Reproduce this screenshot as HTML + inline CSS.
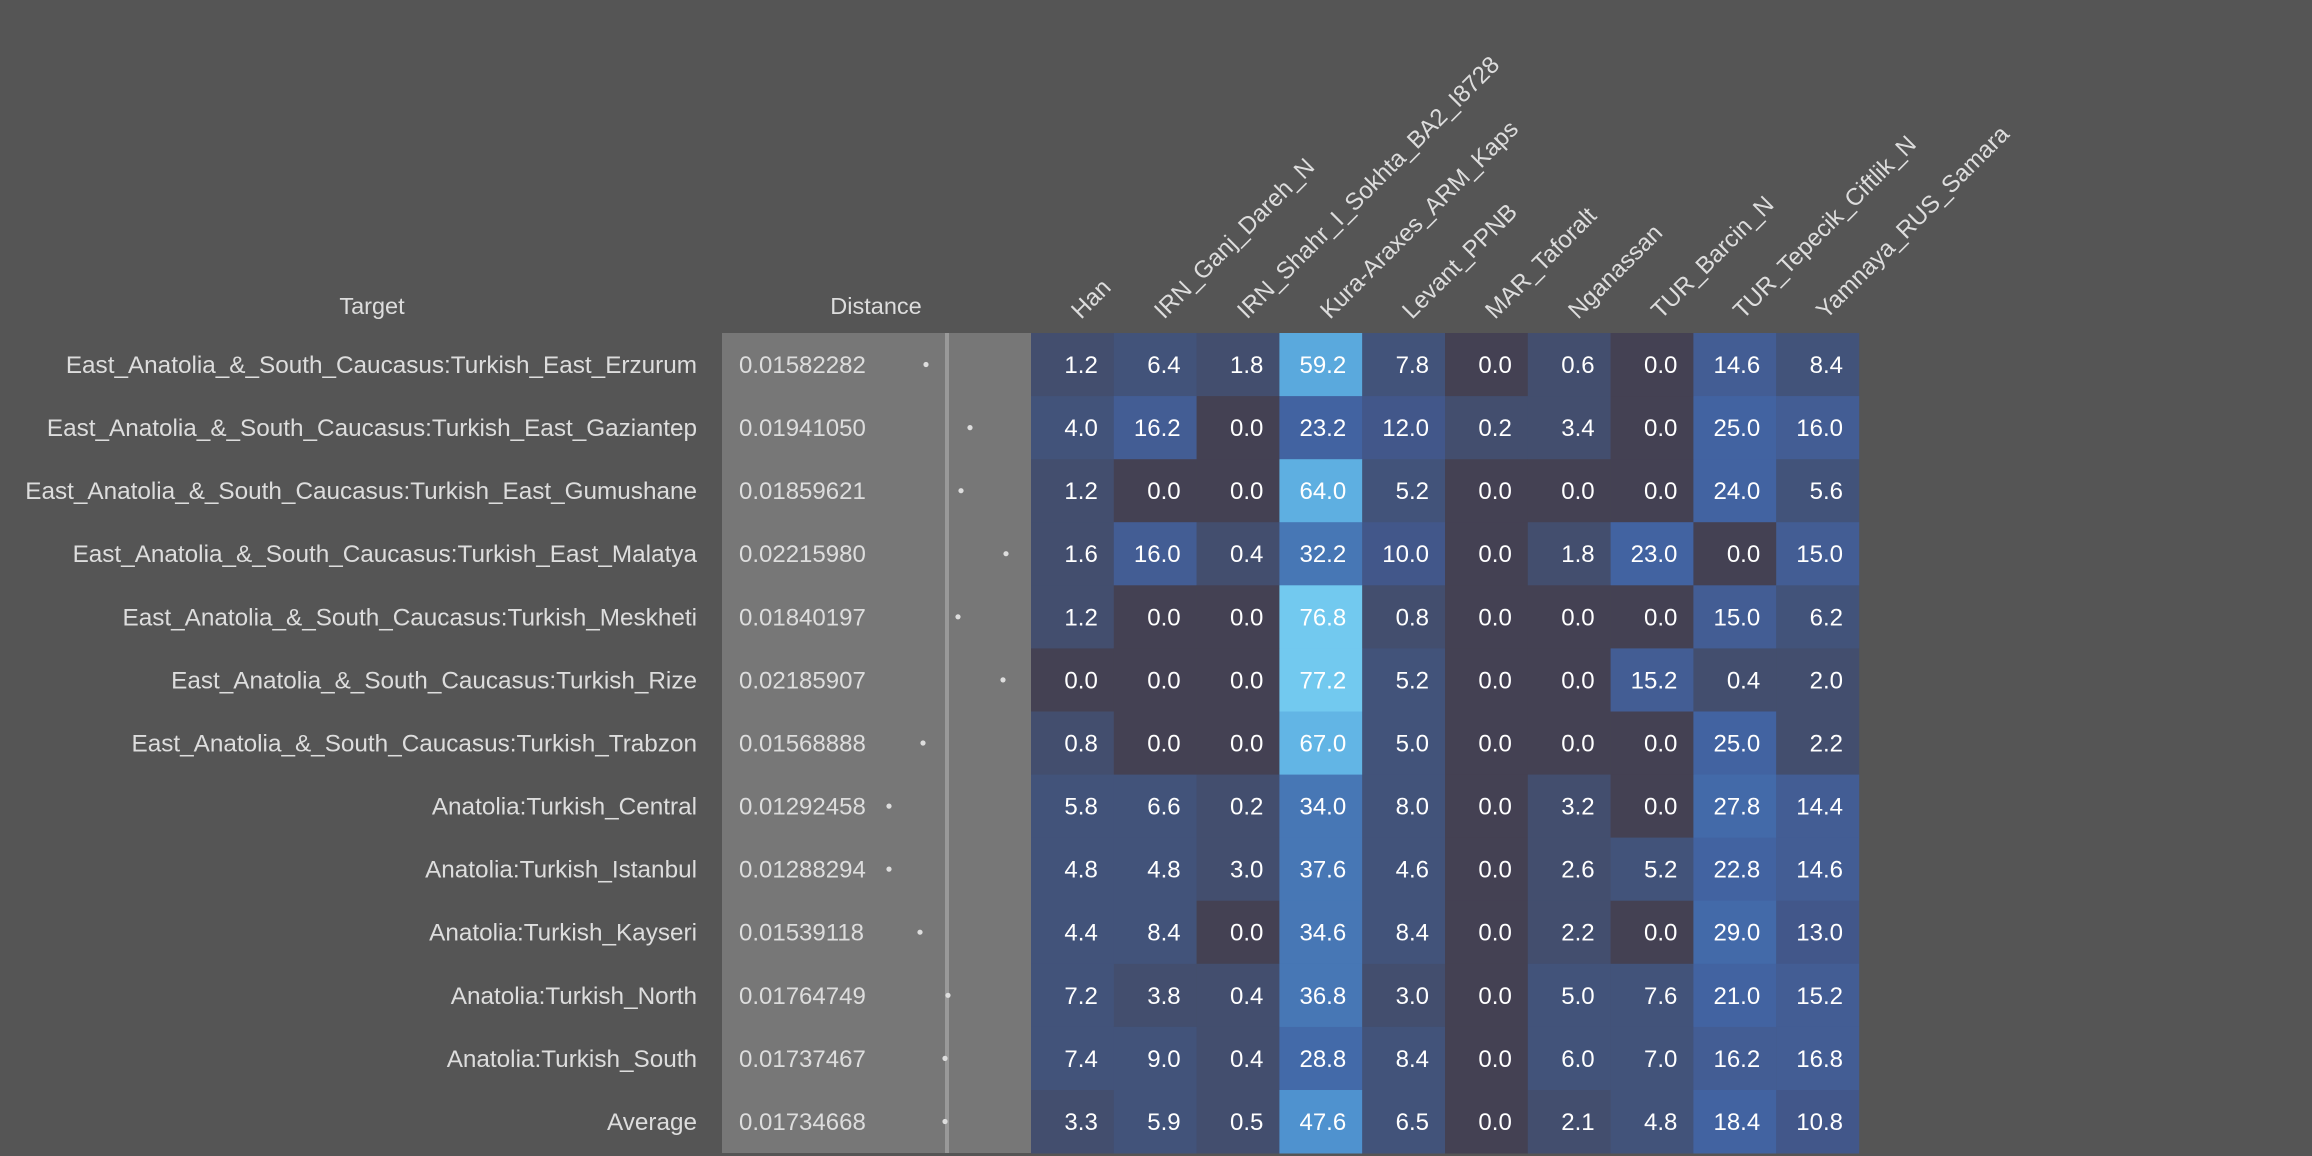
<!DOCTYPE html>
<html><head><meta charset="utf-8"><style>
html,body{margin:0;padding:0;background:#555555;}
svg{display:block;font-family:"Liberation Sans",Arial,sans-serif;}
.l{fill:#dddddd;font-size:24.3px;text-anchor:end}
.d{fill:#dddddd;font-size:24px}
.v{fill:#ffffff;font-size:24px;text-anchor:end}
.h{fill:#dddddd;font-size:24px}
.z{fill:#444153}.a{fill:#434e6e}.b{fill:#42537a}.c{fill:#42578a}.e{fill:#435d94}.f{fill:#4263a1}.g{fill:#436aa9}.k{fill:#4777b5}.m{fill:#4f92cf}.n{fill:#5aa9dd}.o{fill:#5eafe1}.p{fill:#62b5e5}.q{fill:#72c9ef}
</style></head><body>
<svg width="2312" height="1156" viewBox="0 0 2312 1156" xmlns="http://www.w3.org/2000/svg">
<rect width="2312" height="1156" fill="#555555"/>
<text x="372" y="314" fill="#dddddd" font-size="23.5" text-anchor="middle">Target</text>
<text x="876" y="314" fill="#dddddd" font-size="23.5" text-anchor="middle">Distance</text>
<rect x="722" y="333" width="309" height="820" fill="#777777"/>
<rect x="945" y="333" width="4" height="820" fill="#999999"/>

<text class="h" x="1081" y="320" transform="rotate(-45 1081 320)">Han</text>
<text class="h" x="1164" y="320" transform="rotate(-45 1164 320)">IRN_Ganj_Dareh_N</text>
<text class="h" x="1247" y="320" transform="rotate(-45 1247 320)">IRN_Shahr_I_Sokhta_BA2_I8728</text>
<text class="h" x="1330" y="320" transform="rotate(-45 1330 320)">Kura-Araxes_ARM_Kaps</text>
<text class="h" x="1412" y="320" transform="rotate(-45 1412 320)">Levant_PPNB</text>
<text class="h" x="1495" y="320" transform="rotate(-45 1495 320)">MAR_Taforalt</text>
<text class="h" x="1578" y="320" transform="rotate(-45 1578 320)">Nganassan</text>
<text class="h" x="1661" y="320" transform="rotate(-45 1661 320)">TUR_Barcin_N</text>
<text class="h" x="1743" y="320" transform="rotate(-45 1743 320)">TUR_Tepecik_Ciftlik_N</text>
<text class="h" x="1826" y="320" transform="rotate(-45 1826 320)">Yamnaya_RUS_Samara</text>

<g transform="translate(0,333)">
<text class="l" x="697" y="40">East_Anatolia_&amp;_South_Caucasus:Turkish_East_Erzurum</text><text class="d" x="739" y="40">0.01582282</text><circle cx="926" cy="31.5" r="2.6" fill="#ddd"/>
<rect class="a" x="1031" y="0" width="83" height="63.5"/><rect class="b" x="1113.8" y="0" width="83" height="63.5"/><rect class="a" x="1196.6" y="0" width="83" height="63.5"/><rect class="n" x="1279.4" y="0" width="83" height="63.5"/><rect class="b" x="1362.2" y="0" width="83" height="63.5"/><rect class="z" x="1445" y="0" width="83" height="63.5"/><rect class="a" x="1527.8" y="0" width="83" height="63.5"/><rect class="z" x="1610.6" y="0" width="83" height="63.5"/><rect class="e" x="1693.4" y="0" width="83" height="63.5"/><rect class="b" x="1776.2" y="0" width="83" height="63.5"/>
<text class="v" x="1097.8" y="40">1.2</text><text class="v" x="1180.6" y="40">6.4</text><text class="v" x="1263.4" y="40">1.8</text><text class="v" x="1346.2" y="40">59.2</text><text class="v" x="1429" y="40">7.8</text><text class="v" x="1511.8" y="40">0.0</text><text class="v" x="1594.6" y="40">0.6</text><text class="v" x="1677.4" y="40">0.0</text><text class="v" x="1760.2" y="40">14.6</text><text class="v" x="1843" y="40">8.4</text>
</g>
<g transform="translate(0,396.1)">
<text class="l" x="697" y="40">East_Anatolia_&amp;_South_Caucasus:Turkish_East_Gaziantep</text><text class="d" x="739" y="40">0.01941050</text><circle cx="970" cy="31.5" r="2.6" fill="#ddd"/>
<rect class="b" x="1031" y="0" width="83" height="63.5"/><rect class="e" x="1113.8" y="0" width="83" height="63.5"/><rect class="z" x="1196.6" y="0" width="83" height="63.5"/><rect class="f" x="1279.4" y="0" width="83" height="63.5"/><rect class="c" x="1362.2" y="0" width="83" height="63.5"/><rect class="a" x="1445" y="0" width="83" height="63.5"/><rect class="a" x="1527.8" y="0" width="83" height="63.5"/><rect class="z" x="1610.6" y="0" width="83" height="63.5"/><rect class="f" x="1693.4" y="0" width="83" height="63.5"/><rect class="e" x="1776.2" y="0" width="83" height="63.5"/>
<text class="v" x="1097.8" y="40">4.0</text><text class="v" x="1180.6" y="40">16.2</text><text class="v" x="1263.4" y="40">0.0</text><text class="v" x="1346.2" y="40">23.2</text><text class="v" x="1429" y="40">12.0</text><text class="v" x="1511.8" y="40">0.2</text><text class="v" x="1594.6" y="40">3.4</text><text class="v" x="1677.4" y="40">0.0</text><text class="v" x="1760.2" y="40">25.0</text><text class="v" x="1843" y="40">16.0</text>
</g>
<g transform="translate(0,459.2)">
<text class="l" x="697" y="40">East_Anatolia_&amp;_South_Caucasus:Turkish_East_Gumushane</text><text class="d" x="739" y="40">0.01859621</text><circle cx="961" cy="31.5" r="2.6" fill="#ddd"/>
<rect class="a" x="1031" y="0" width="83" height="63.5"/><rect class="z" x="1113.8" y="0" width="83" height="63.5"/><rect class="z" x="1196.6" y="0" width="83" height="63.5"/><rect class="o" x="1279.4" y="0" width="83" height="63.5"/><rect class="b" x="1362.2" y="0" width="83" height="63.5"/><rect class="z" x="1445" y="0" width="83" height="63.5"/><rect class="z" x="1527.8" y="0" width="83" height="63.5"/><rect class="z" x="1610.6" y="0" width="83" height="63.5"/><rect class="f" x="1693.4" y="0" width="83" height="63.5"/><rect class="b" x="1776.2" y="0" width="83" height="63.5"/>
<text class="v" x="1097.8" y="40">1.2</text><text class="v" x="1180.6" y="40">0.0</text><text class="v" x="1263.4" y="40">0.0</text><text class="v" x="1346.2" y="40">64.0</text><text class="v" x="1429" y="40">5.2</text><text class="v" x="1511.8" y="40">0.0</text><text class="v" x="1594.6" y="40">0.0</text><text class="v" x="1677.4" y="40">0.0</text><text class="v" x="1760.2" y="40">24.0</text><text class="v" x="1843" y="40">5.6</text>
</g>
<g transform="translate(0,522.2)">
<text class="l" x="697" y="40">East_Anatolia_&amp;_South_Caucasus:Turkish_East_Malatya</text><text class="d" x="739" y="40">0.02215980</text><circle cx="1006" cy="31.5" r="2.6" fill="#ddd"/>
<rect class="a" x="1031" y="0" width="83" height="63.5"/><rect class="e" x="1113.8" y="0" width="83" height="63.5"/><rect class="a" x="1196.6" y="0" width="83" height="63.5"/><rect class="k" x="1279.4" y="0" width="83" height="63.5"/><rect class="c" x="1362.2" y="0" width="83" height="63.5"/><rect class="z" x="1445" y="0" width="83" height="63.5"/><rect class="a" x="1527.8" y="0" width="83" height="63.5"/><rect class="f" x="1610.6" y="0" width="83" height="63.5"/><rect class="z" x="1693.4" y="0" width="83" height="63.5"/><rect class="e" x="1776.2" y="0" width="83" height="63.5"/>
<text class="v" x="1097.8" y="40">1.6</text><text class="v" x="1180.6" y="40">16.0</text><text class="v" x="1263.4" y="40">0.4</text><text class="v" x="1346.2" y="40">32.2</text><text class="v" x="1429" y="40">10.0</text><text class="v" x="1511.8" y="40">0.0</text><text class="v" x="1594.6" y="40">1.8</text><text class="v" x="1677.4" y="40">23.0</text><text class="v" x="1760.2" y="40">0.0</text><text class="v" x="1843" y="40">15.0</text>
</g>
<g transform="translate(0,585.3)">
<text class="l" x="697" y="40">East_Anatolia_&amp;_South_Caucasus:Turkish_Meskheti</text><text class="d" x="739" y="40">0.01840197</text><circle cx="958" cy="31.5" r="2.6" fill="#ddd"/>
<rect class="a" x="1031" y="0" width="83" height="63.5"/><rect class="z" x="1113.8" y="0" width="83" height="63.5"/><rect class="z" x="1196.6" y="0" width="83" height="63.5"/><rect class="q" x="1279.4" y="0" width="83" height="63.5"/><rect class="a" x="1362.2" y="0" width="83" height="63.5"/><rect class="z" x="1445" y="0" width="83" height="63.5"/><rect class="z" x="1527.8" y="0" width="83" height="63.5"/><rect class="z" x="1610.6" y="0" width="83" height="63.5"/><rect class="e" x="1693.4" y="0" width="83" height="63.5"/><rect class="b" x="1776.2" y="0" width="83" height="63.5"/>
<text class="v" x="1097.8" y="40">1.2</text><text class="v" x="1180.6" y="40">0.0</text><text class="v" x="1263.4" y="40">0.0</text><text class="v" x="1346.2" y="40">76.8</text><text class="v" x="1429" y="40">0.8</text><text class="v" x="1511.8" y="40">0.0</text><text class="v" x="1594.6" y="40">0.0</text><text class="v" x="1677.4" y="40">0.0</text><text class="v" x="1760.2" y="40">15.0</text><text class="v" x="1843" y="40">6.2</text>
</g>
<g transform="translate(0,648.4)">
<text class="l" x="697" y="40">East_Anatolia_&amp;_South_Caucasus:Turkish_Rize</text><text class="d" x="739" y="40">0.02185907</text><circle cx="1003" cy="31.5" r="2.6" fill="#ddd"/>
<rect class="z" x="1031" y="0" width="83" height="63.5"/><rect class="z" x="1113.8" y="0" width="83" height="63.5"/><rect class="z" x="1196.6" y="0" width="83" height="63.5"/><rect class="q" x="1279.4" y="0" width="83" height="63.5"/><rect class="b" x="1362.2" y="0" width="83" height="63.5"/><rect class="z" x="1445" y="0" width="83" height="63.5"/><rect class="z" x="1527.8" y="0" width="83" height="63.5"/><rect class="e" x="1610.6" y="0" width="83" height="63.5"/><rect class="a" x="1693.4" y="0" width="83" height="63.5"/><rect class="a" x="1776.2" y="0" width="83" height="63.5"/>
<text class="v" x="1097.8" y="40">0.0</text><text class="v" x="1180.6" y="40">0.0</text><text class="v" x="1263.4" y="40">0.0</text><text class="v" x="1346.2" y="40">77.2</text><text class="v" x="1429" y="40">5.2</text><text class="v" x="1511.8" y="40">0.0</text><text class="v" x="1594.6" y="40">0.0</text><text class="v" x="1677.4" y="40">15.2</text><text class="v" x="1760.2" y="40">0.4</text><text class="v" x="1843" y="40">2.0</text>
</g>
<g transform="translate(0,711.5)">
<text class="l" x="697" y="40">East_Anatolia_&amp;_South_Caucasus:Turkish_Trabzon</text><text class="d" x="739" y="40">0.01568888</text><circle cx="923" cy="31.5" r="2.6" fill="#ddd"/>
<rect class="a" x="1031" y="0" width="83" height="63.5"/><rect class="z" x="1113.8" y="0" width="83" height="63.5"/><rect class="z" x="1196.6" y="0" width="83" height="63.5"/><rect class="p" x="1279.4" y="0" width="83" height="63.5"/><rect class="b" x="1362.2" y="0" width="83" height="63.5"/><rect class="z" x="1445" y="0" width="83" height="63.5"/><rect class="z" x="1527.8" y="0" width="83" height="63.5"/><rect class="z" x="1610.6" y="0" width="83" height="63.5"/><rect class="f" x="1693.4" y="0" width="83" height="63.5"/><rect class="a" x="1776.2" y="0" width="83" height="63.5"/>
<text class="v" x="1097.8" y="40">0.8</text><text class="v" x="1180.6" y="40">0.0</text><text class="v" x="1263.4" y="40">0.0</text><text class="v" x="1346.2" y="40">67.0</text><text class="v" x="1429" y="40">5.0</text><text class="v" x="1511.8" y="40">0.0</text><text class="v" x="1594.6" y="40">0.0</text><text class="v" x="1677.4" y="40">0.0</text><text class="v" x="1760.2" y="40">25.0</text><text class="v" x="1843" y="40">2.2</text>
</g>
<g transform="translate(0,774.6)">
<text class="l" x="697" y="40">Anatolia:Turkish_Central</text><text class="d" x="739" y="40">0.01292458</text><circle cx="889" cy="31.5" r="2.6" fill="#ddd"/>
<rect class="b" x="1031" y="0" width="83" height="63.5"/><rect class="b" x="1113.8" y="0" width="83" height="63.5"/><rect class="a" x="1196.6" y="0" width="83" height="63.5"/><rect class="k" x="1279.4" y="0" width="83" height="63.5"/><rect class="b" x="1362.2" y="0" width="83" height="63.5"/><rect class="z" x="1445" y="0" width="83" height="63.5"/><rect class="a" x="1527.8" y="0" width="83" height="63.5"/><rect class="z" x="1610.6" y="0" width="83" height="63.5"/><rect class="g" x="1693.4" y="0" width="83" height="63.5"/><rect class="e" x="1776.2" y="0" width="83" height="63.5"/>
<text class="v" x="1097.8" y="40">5.8</text><text class="v" x="1180.6" y="40">6.6</text><text class="v" x="1263.4" y="40">0.2</text><text class="v" x="1346.2" y="40">34.0</text><text class="v" x="1429" y="40">8.0</text><text class="v" x="1511.8" y="40">0.0</text><text class="v" x="1594.6" y="40">3.2</text><text class="v" x="1677.4" y="40">0.0</text><text class="v" x="1760.2" y="40">27.8</text><text class="v" x="1843" y="40">14.4</text>
</g>
<g transform="translate(0,837.6)">
<text class="l" x="697" y="40">Anatolia:Turkish_Istanbul</text><text class="d" x="739" y="40">0.01288294</text><circle cx="889" cy="31.5" r="2.6" fill="#ddd"/>
<rect class="b" x="1031" y="0" width="83" height="63.5"/><rect class="b" x="1113.8" y="0" width="83" height="63.5"/><rect class="a" x="1196.6" y="0" width="83" height="63.5"/><rect class="k" x="1279.4" y="0" width="83" height="63.5"/><rect class="b" x="1362.2" y="0" width="83" height="63.5"/><rect class="z" x="1445" y="0" width="83" height="63.5"/><rect class="a" x="1527.8" y="0" width="83" height="63.5"/><rect class="b" x="1610.6" y="0" width="83" height="63.5"/><rect class="f" x="1693.4" y="0" width="83" height="63.5"/><rect class="e" x="1776.2" y="0" width="83" height="63.5"/>
<text class="v" x="1097.8" y="40">4.8</text><text class="v" x="1180.6" y="40">4.8</text><text class="v" x="1263.4" y="40">3.0</text><text class="v" x="1346.2" y="40">37.6</text><text class="v" x="1429" y="40">4.6</text><text class="v" x="1511.8" y="40">0.0</text><text class="v" x="1594.6" y="40">2.6</text><text class="v" x="1677.4" y="40">5.2</text><text class="v" x="1760.2" y="40">22.8</text><text class="v" x="1843" y="40">14.6</text>
</g>
<g transform="translate(0,900.7)">
<text class="l" x="697" y="40">Anatolia:Turkish_Kayseri</text><text class="d" x="739" y="40">0.01539118</text><circle cx="920" cy="31.5" r="2.6" fill="#ddd"/>
<rect class="b" x="1031" y="0" width="83" height="63.5"/><rect class="b" x="1113.8" y="0" width="83" height="63.5"/><rect class="z" x="1196.6" y="0" width="83" height="63.5"/><rect class="k" x="1279.4" y="0" width="83" height="63.5"/><rect class="b" x="1362.2" y="0" width="83" height="63.5"/><rect class="z" x="1445" y="0" width="83" height="63.5"/><rect class="a" x="1527.8" y="0" width="83" height="63.5"/><rect class="z" x="1610.6" y="0" width="83" height="63.5"/><rect class="g" x="1693.4" y="0" width="83" height="63.5"/><rect class="c" x="1776.2" y="0" width="83" height="63.5"/>
<text class="v" x="1097.8" y="40">4.4</text><text class="v" x="1180.6" y="40">8.4</text><text class="v" x="1263.4" y="40">0.0</text><text class="v" x="1346.2" y="40">34.6</text><text class="v" x="1429" y="40">8.4</text><text class="v" x="1511.8" y="40">0.0</text><text class="v" x="1594.6" y="40">2.2</text><text class="v" x="1677.4" y="40">0.0</text><text class="v" x="1760.2" y="40">29.0</text><text class="v" x="1843" y="40">13.0</text>
</g>
<g transform="translate(0,963.8)">
<text class="l" x="697" y="40">Anatolia:Turkish_North</text><text class="d" x="739" y="40">0.01764749</text><circle cx="948" cy="31.5" r="2.6" fill="#ddd"/>
<rect class="b" x="1031" y="0" width="83" height="63.5"/><rect class="a" x="1113.8" y="0" width="83" height="63.5"/><rect class="a" x="1196.6" y="0" width="83" height="63.5"/><rect class="k" x="1279.4" y="0" width="83" height="63.5"/><rect class="a" x="1362.2" y="0" width="83" height="63.5"/><rect class="z" x="1445" y="0" width="83" height="63.5"/><rect class="b" x="1527.8" y="0" width="83" height="63.5"/><rect class="b" x="1610.6" y="0" width="83" height="63.5"/><rect class="f" x="1693.4" y="0" width="83" height="63.5"/><rect class="e" x="1776.2" y="0" width="83" height="63.5"/>
<text class="v" x="1097.8" y="40">7.2</text><text class="v" x="1180.6" y="40">3.8</text><text class="v" x="1263.4" y="40">0.4</text><text class="v" x="1346.2" y="40">36.8</text><text class="v" x="1429" y="40">3.0</text><text class="v" x="1511.8" y="40">0.0</text><text class="v" x="1594.6" y="40">5.0</text><text class="v" x="1677.4" y="40">7.6</text><text class="v" x="1760.2" y="40">21.0</text><text class="v" x="1843" y="40">15.2</text>
</g>
<g transform="translate(0,1026.9)">
<text class="l" x="697" y="40">Anatolia:Turkish_South</text><text class="d" x="739" y="40">0.01737467</text><circle cx="945" cy="31.5" r="2.6" fill="#ddd"/>
<rect class="b" x="1031" y="0" width="83" height="63.5"/><rect class="b" x="1113.8" y="0" width="83" height="63.5"/><rect class="a" x="1196.6" y="0" width="83" height="63.5"/><rect class="g" x="1279.4" y="0" width="83" height="63.5"/><rect class="b" x="1362.2" y="0" width="83" height="63.5"/><rect class="z" x="1445" y="0" width="83" height="63.5"/><rect class="b" x="1527.8" y="0" width="83" height="63.5"/><rect class="b" x="1610.6" y="0" width="83" height="63.5"/><rect class="e" x="1693.4" y="0" width="83" height="63.5"/><rect class="e" x="1776.2" y="0" width="83" height="63.5"/>
<text class="v" x="1097.8" y="40">7.4</text><text class="v" x="1180.6" y="40">9.0</text><text class="v" x="1263.4" y="40">0.4</text><text class="v" x="1346.2" y="40">28.8</text><text class="v" x="1429" y="40">8.4</text><text class="v" x="1511.8" y="40">0.0</text><text class="v" x="1594.6" y="40">6.0</text><text class="v" x="1677.4" y="40">7.0</text><text class="v" x="1760.2" y="40">16.2</text><text class="v" x="1843" y="40">16.8</text>
</g>
<g transform="translate(0,1090)">
<text class="l" x="697" y="40">Average</text><text class="d" x="739" y="40">0.01734668</text><circle cx="945" cy="31.5" r="2.6" fill="#ddd"/>
<rect class="a" x="1031" y="0" width="83" height="63.5"/><rect class="b" x="1113.8" y="0" width="83" height="63.5"/><rect class="a" x="1196.6" y="0" width="83" height="63.5"/><rect class="m" x="1279.4" y="0" width="83" height="63.5"/><rect class="b" x="1362.2" y="0" width="83" height="63.5"/><rect class="z" x="1445" y="0" width="83" height="63.5"/><rect class="a" x="1527.8" y="0" width="83" height="63.5"/><rect class="b" x="1610.6" y="0" width="83" height="63.5"/><rect class="f" x="1693.4" y="0" width="83" height="63.5"/><rect class="c" x="1776.2" y="0" width="83" height="63.5"/>
<text class="v" x="1097.8" y="40">3.3</text><text class="v" x="1180.6" y="40">5.9</text><text class="v" x="1263.4" y="40">0.5</text><text class="v" x="1346.2" y="40">47.6</text><text class="v" x="1429" y="40">6.5</text><text class="v" x="1511.8" y="40">0.0</text><text class="v" x="1594.6" y="40">2.1</text><text class="v" x="1677.4" y="40">4.8</text><text class="v" x="1760.2" y="40">18.4</text><text class="v" x="1843" y="40">10.8</text>
</g>
</svg>
</body></html>
